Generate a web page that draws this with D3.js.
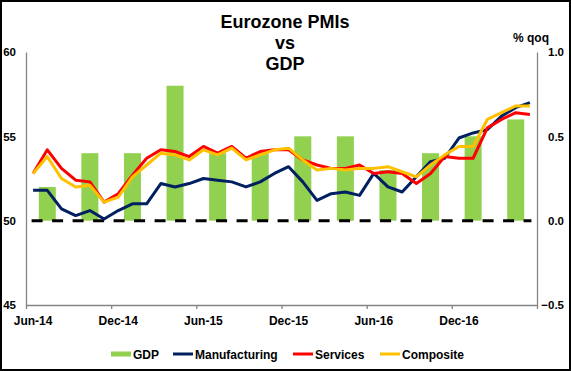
<!DOCTYPE html>
<html>
<head>
<meta charset="utf-8">
<script src="https://cdn.jsdelivr.net/npm/d3@7"></script>
<style>
    body { margin: 0; background: #fff; }
    svg text { font-family: "Liberation Sans", Arial, sans-serif; font-weight: bold; fill: #000; }
</style>
</head>
<body>
<div id="chart"></div>
<script>
const months = [
    'Jun-14', 'Jul-14', 'Aug-14', 'Sep-14', 'Oct-14', 'Nov-14', 'Dec-14', 'Jan-15', 'Feb-15', 'Mar-15', 'Apr-15', 'May-15',
    'Jun-15', 'Jul-15', 'Aug-15', 'Sep-15', 'Oct-15', 'Nov-15', 'Dec-15', 'Jan-16', 'Feb-16', 'Mar-16', 'Apr-16', 'May-16',
    'Jun-16', 'Jul-16', 'Aug-16', 'Sep-16', 'Oct-16', 'Nov-16', 'Dec-16', 'Jan-17', 'Feb-17', 'Mar-17', 'Apr-17', 'May-17'
];
const tickLabels = ['Jun-14', 'Dec-14', 'Jun-15', 'Dec-15', 'Jun-16', 'Dec-16'];

const manufacturing = [51.8, 51.8, 50.7, 50.3, 50.6, 50.1, 50.6, 51.0, 51.0, 52.2, 52.0, 52.2,
    52.5, 52.4, 52.3, 52.0, 52.3, 52.8, 53.2, 52.3, 51.2, 51.6, 51.7, 51.5,
    52.8, 52.0, 51.7, 52.6, 53.5, 53.7, 54.9, 55.2, 55.4, 56.2, 56.7, 57.0];
const services = [52.8, 54.2, 53.1, 52.4, 52.3, 51.1, 51.6, 52.7, 53.7, 54.2, 54.1, 53.8,
    54.4, 54.0, 54.4, 53.7, 54.1, 54.2, 54.2, 53.6, 53.3, 53.1, 53.1, 53.3,
    52.8, 52.9, 52.8, 52.2, 52.8, 53.8, 53.7, 53.7, 55.5, 56.0, 56.4, 56.3];
const composite = [52.8, 53.8, 52.5, 52.0, 52.1, 51.1, 51.4, 52.6, 53.3, 54.0, 53.9, 53.6,
    54.2, 53.9, 54.3, 53.6, 53.9, 54.2, 54.3, 53.6, 53.0, 53.1, 53.0, 53.1,
    53.1, 53.2, 52.9, 52.6, 53.3, 53.9, 54.4, 54.4, 56.0, 56.4, 56.8, 56.8];

const gdpMonths = ['Jul-14', 'Oct-14', 'Jan-15', 'Apr-15', 'Jul-15', 'Oct-15', 'Jan-16', 'Apr-16', 'Jul-16', 'Oct-16', 'Jan-17', 'Apr-17'];
const gdp = [0.2, 0.4, 0.4, 0.8, 0.4, 0.4, 0.5, 0.5, 0.3, 0.4, 0.5, 0.6];

const leftTicks = [45, 50, 55, 60];
const rightTicks = [-0.5, 0.0, 0.5, 1.0];

const colors = {
    gdp: '#92D050',
    manufacturing: '#002060',
    services: '#FF0000',
    composite: '#FFC000',
    axis: '#858585'
};

const width = 571;
const height = 371;
const plot = { left: 26, right: 537, top: 52, bottom: 305 };

const svg = d3.select('#chart')
    .append('svg')
    .attr('width', width)
    .attr('height', height);

const x = d3.scaleBand().domain(months).range([plot.left, plot.right]);
const xEdge = d3.scaleLinear().domain([0, months.length]).range([plot.left, plot.right]);
const yL = d3.scaleLinear().domain([45, 60]).range([plot.bottom, plot.top]);
const yR = d3.scaleLinear().domain([-0.5, 1.0]).range([plot.bottom, plot.top]);

// gdp bars (right axis)
const barW = 17;
svg.append('g')
    .selectAll('rect')
    .data(gdp)
    .enter()
    .append('rect')
    .attr('x', (d, i) => x(gdpMonths[i]) + x.bandwidth() / 2 - barW / 2)
    .attr('y', d => yR(d))
    .attr('width', barW)
    .attr('height', d => yR(0) - yR(d))
    .attr('fill', colors.gdp);

// 50 line
svg.append('line')
    .attr('x1', x(months[0]) + x.bandwidth() / 2 - 1.5)
    .attr('x2', x(months[months.length - 1]) + x.bandwidth() / 2 + 1.5)
    .attr('y1', yL(50))
    .attr('y2', yL(50))
    .attr('stroke', '#000')
    .attr('stroke-width', 3)
    .attr('stroke-dasharray', '11,9.5');

// axes
const leftAxis = svg.append('g')
    .attr('transform', `translate(${plot.left},0)`)
    .call(d3.axisLeft(yL).tickValues(leftTicks).tickSize(0).tickSizeOuter(0).tickPadding(10));

const rightAxis = svg.append('g')
    .attr('transform', `translate(${plot.right},0)`)
    .call(d3.axisRight(yR).tickValues(rightTicks).tickSize(0).tickSizeOuter(0).tickPadding(27).tickFormat(d3.format('.1f')));
rightAxis.selectAll('text').attr('text-anchor', 'end');

const tickAxis = svg.append('g')
    .attr('transform', `translate(0,${plot.bottom})`)
    .call(d3.axisBottom(xEdge).tickValues(d3.range(0, months.length + 1, 6)).tickSize(4).tickSizeOuter(0).tickFormat(''));

const labelAxis = svg.append('g')
    .attr('transform', `translate(0,${plot.bottom})`)
    .call(d3.axisBottom(x).tickValues(tickLabels).tickSize(0).tickPadding(11));
labelAxis.select('.domain').remove();

[leftAxis, rightAxis, tickAxis].forEach(g => {
    g.select('.domain').attr('stroke', colors.axis).attr('stroke-width', 1.3);
    g.selectAll('.tick line').attr('stroke', colors.axis).attr('stroke-width', 1.3);
});
leftAxis.selectAll('text').style('font-size', '11.5px');
rightAxis.selectAll('text').style('font-size', '11.5px');
labelAxis.selectAll('text').style('font-size', '12px');

// pmi lines
const series = [
    { name: 'Manufacturing', values: manufacturing, color: colors.manufacturing },
    { name: 'Services', values: services, color: colors.services },
    { name: 'Composite', values: composite, color: colors.composite }
];

const line = d3.line()
    .x((d, i) => x(months[i]) + x.bandwidth() / 2)
    .y(d => yL(d));

svg.append('g')
    .selectAll('path')
    .data(series)
    .enter()
    .append('path')
    .attr('d', d => line(d.values))
    .attr('fill', 'none')
    .attr('stroke', d => d.color)
    .attr('stroke-width', 3)
    .attr('stroke-linejoin', 'round');

// titles
const title = svg.append('text')
    .attr('x', 285)
    .attr('text-anchor', 'middle')
    .style('font-size', '18px');
['Eurozone PMIs', 'vs', 'GDP'].forEach((t, i) => {
    title.append('tspan').attr('x', 285).attr('y', 27.5 + i * 21).text(t);
});

svg.append('text')
    .attr('x', 531)
    .attr('y', 42)
    .attr('text-anchor', 'middle')
    .style('font-size', '12px')
    .text('% qoq');

// legend
const legendItems = [
    { name: 'GDP', color: colors.gdp, type: 'bar', x: 111 },
    { name: 'Manufacturing', color: colors.manufacturing, type: 'line', x: 173 },
    { name: 'Services', color: colors.services, type: 'line', x: 293 },
    { name: 'Composite', color: colors.composite, type: 'line', x: 380 }
];

const legend = svg.append('g')
    .selectAll('g')
    .data(legendItems)
    .enter()
    .append('g')
    .attr('transform', d => `translate(${d.x},354)`);

legend.filter(d => d.type === 'bar')
    .append('rect')
    .attr('x', 0)
    .attr('y', -2.5)
    .attr('width', 20)
    .attr('height', 5)
    .attr('fill', d => d.color);

legend.filter(d => d.type === 'line')
    .append('line')
    .attr('x1', 0)
    .attr('x2', 20)
    .attr('stroke', d => d.color)
    .attr('stroke-width', 3);

legend.append('text')
    .attr('x', 22)
    .attr('y', 4.5)
    .style('font-size', '12px')
    .text(d => d.name);

// outer frame
svg.append('rect')
    .attr('x', 1)
    .attr('y', 1)
    .attr('width', width - 2)
    .attr('height', height - 2)
    .attr('fill', 'none')
    .attr('stroke', '#000')
    .attr('stroke-width', 2);
</script>
</body>
</html>
